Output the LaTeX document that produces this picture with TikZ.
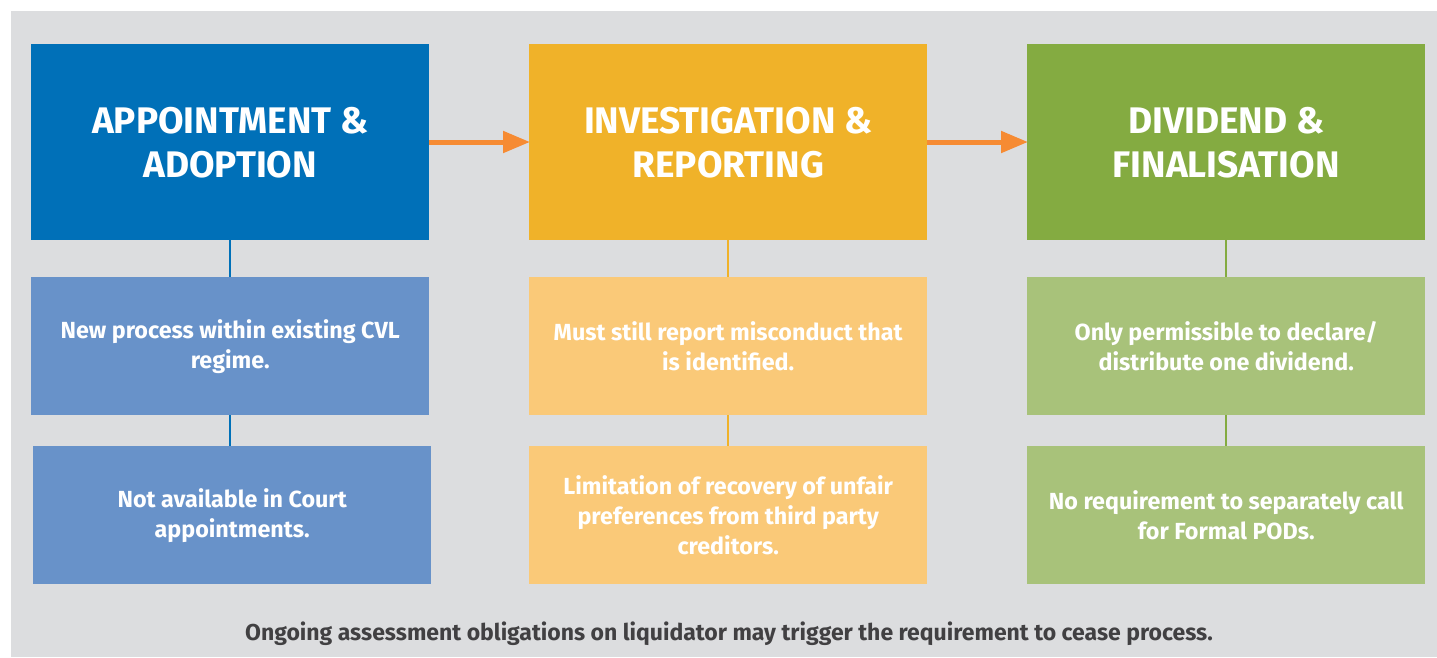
\documentclass[tikz,border=0pt]{standalone}
\usepackage{fontspec}
\setmainfont{Fira Sans}
\usetikzlibrary{arrows.meta}
\definecolor{bggray}{HTML}{DCDDDF}
\definecolor{bluedark}{HTML}{0070B8}
\definecolor{bluelight}{HTML}{6892C9}
\definecolor{yellowdark}{HTML}{F0B229}
\definecolor{yellowlight}{HTML}{FAC978}
\definecolor{greendark}{HTML}{84AB41}
\definecolor{greenlight}{HTML}{A8C27A}
\definecolor{arroworange}{HTML}{F68B33}
\definecolor{textgray}{HTML}{414042}
\tikzset{
  headbox/.style={minimum width=398pt, minimum height=196pt, inner sep=0pt,
    text=white, align=center, font=\bfseries\fontsize{37}{44}\selectfont},
  infobox/.style={minimum width=398pt, minimum height=138pt, inner sep=0pt,
    text=white, align=center, font=\bfseries\fontsize{23.3}{30}\selectfont},
  flow/.style={arroworange, line width=5pt, -{Triangle[length=27pt, width=21pt]}, shorten >=-1pt},
  stem/.style={line width=2.5pt}
}
\begin{document}
\begin{tikzpicture}[x=1pt, y=-1pt]
  \useasboundingbox (0,0) rectangle (1437,657);
  \fill[bggray] (11,11) rectangle (1437,657);

  % phase headers
  \node[headbox, fill=bluedark, anchor=north west] (h1) at (31,44) {APPOINTMENT \&\\ADOPTION};
  \node[headbox, fill=yellowdark, anchor=north west] (h2) at (529,44) {INVESTIGATION \&\\REPORTING};
  \node[headbox, fill=greendark, anchor=north west] (h3) at (1027,44) {DIVIDEND \&\\FINALISATION};

  % first row of notes
  \node[infobox, fill=bluelight, anchor=north west] (a1) at (31,277) {New process within existing CVL\\regime.};
  \node[infobox, fill=yellowlight, anchor=north west] (b1) at (529,277) {Must still report misconduct that\\is identified.};
  \node[infobox, fill=greenlight, anchor=north west] (c1) at (1027,277) {Only permissible to declare/\\distribute one dividend.};

  % second row of notes
  \node[infobox, fill=bluelight, anchor=north west] (a2) at (33,446) {Not available in Court\\appointments.};
  \node[infobox, fill=yellowlight, anchor=north west] (b2) at (529,446) {Limitation of recovery of unfair\\preferences from third party\\creditors.};
  \node[infobox, fill=greenlight, anchor=north west] (c2) at (1027,446) {No requirement to separately call\\for Formal PODs.};

  % stems between boxes
  \draw[stem, bluedark] (230,240) -- (230,277);
  \draw[stem, bluedark] (230,415) -- (230,446);
  \draw[stem, yellowdark] (h2.south) -- (b1.north);
  \draw[stem, yellowdark] (b1.south) -- (b2.north);
  \draw[stem, greendark] (h3.south) -- (c1.north);
  \draw[stem, greendark] (c1.south) -- (c2.north);

  % flow arrows
  \draw[flow] (h1.east |- 0,142) -- (h2.west |- 0,142);
  \draw[flow] (h2.east |- 0,142) -- (h3.west |- 0,142);

  \node[text=textgray, font=\bfseries\fontsize{23}{26}\selectfont] (note) at (729,634)
    {Ongoing assessment obligations on liquidator may trigger the requirement to cease process.};
\end{tikzpicture}
\end{document}
